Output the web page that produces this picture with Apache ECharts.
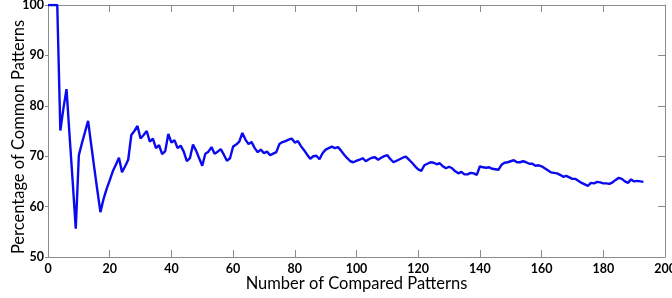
<!DOCTYPE html>
<html>
<head>
<meta charset="utf-8">
<script src="https://cdn.jsdelivr.net/npm/echarts@6/dist/echarts.min.js"></script>
<style>html,body{margin:0;padding:0;background:#fff}#c{width:672px;height:298px}</style>
</head>
<body>
<div id="c"></div>
<script>
const xTitle = "Number of Compared Patterns";
const yTitle = "Percentage of Common Patterns";
const xTicks = [0, 20, 40, 60, 80, 100, 120, 140, 160, 180, 200];
const yTicks = [50, 60, 70, 80, 90, 100];
const patternsCompared = [];
for (let i = 0; i <= 193; i++) patternsCompared.push(i);
const commonPct = [
  100,
  100, 100, 100, 75.1, 79.5, 83.3, 74, 65, 55.6, 70.2,
  72.6, 74.8, 77.0, 72.3, 67.7, 63.2, 58.9, 61.5, 63.5, 65.2,
  67.0, 68.3, 69.7, 66.8, 68.0, 69.3, 74.2, 75.0, 76.0, 73.5,
  74.2, 75.0, 72.9, 73.5, 71.6, 72.2, 70.4, 71.0, 74.4, 72.7,
  73.2, 71.6, 72.1, 70.9, 69.0, 69.6, 72.3, 71.1, 69.6, 68.1,
  70.5, 70.9, 71.8, 70.5, 70.9, 71.4, 70.3, 69.1, 69.6, 71.9,
  72.3, 72.9, 74.6, 73.3, 72.4, 72.8, 71.6, 70.8, 71.3, 70.6,
  70.9, 70.2, 70.5, 70.8, 72.4, 72.8, 73.0, 73.3, 73.5, 72.7,
  73.0, 72.0, 71.2, 70.3, 69.5, 70.0, 70.1, 69.4, 70.6, 71.3,
  71.6, 71.9, 71.6, 71.8, 71.1, 70.3, 69.6, 69.0, 68.8, 69.1,
  69.3, 69.6, 69.0, 69.4, 69.7, 69.8, 69.3, 69.7, 70.0, 70.2,
  69.4, 68.8, 69.1, 69.4, 69.7, 69.9, 69.3, 68.7, 68.0, 67.4,
  67.1, 68.2, 68.5, 68.8, 68.7, 68.4, 68.6, 68.0, 67.6, 67.9,
  67.6, 67.0, 66.6, 66.9, 66.4, 66.4, 66.7, 66.6, 66.3, 68.0,
  67.8, 67.7, 67.8, 67.5, 67.4, 67.3, 68.3, 68.7, 68.8, 69.0,
  69.2, 68.8, 68.8, 69.0, 68.8, 68.5, 68.5, 68.1, 68.2, 68.0,
  67.6, 67.2, 66.8, 66.7, 66.6, 66.3, 65.9, 66.1, 65.8, 65.5,
  65.5, 65.1, 64.7, 64.4, 64.1, 64.7, 64.6, 64.9, 64.8, 64.6,
  64.6, 64.5, 64.8, 65.3, 65.7, 65.5, 65.0, 64.7, 65.4, 65.0,
  65.1, 65.0, 64.9
];

const axisGray = '#8a8a8a';
const fam = 'Lato, "Open Sans", sans-serif';
const labelFont = { color: '#000', fontWeight: 'bold', fontSize: 12.5, fontFamily: fam };
const titleFont = { color: '#000', fontSize: 16.5, fontFamily: fam };
const xMin = xTicks[0], xMax = xTicks[xTicks.length - 1];
const yMin = yTicks[0], yMax = yTicks[yTicks.length - 1];

function baseAxis(extra) {
  return Object.assign({
    type: 'value',
    axisLine: { show: true, onZero: false, lineStyle: { color: axisGray, width: 1 } },
    axisTick: { show: true, inside: true, length: 7, lineStyle: { color: axisGray } },
    splitLine: { show: false },
  }, extra);
}

const chart = echarts.init(document.getElementById('c'));
chart.setOption({
  animation: false,
  grid: { left: 48, right: 7, top: 5, bottom: 41, containLabel: false, outerBoundsMode: 'none' },
  xAxis: [
    baseAxis({
      position: 'bottom', min: xMin, max: xMax, interval: 20,
      axisLabel: Object.assign({ margin: 5 }, labelFont),
      name: xTitle, nameLocation: 'middle', nameGap: 18, nameMoveOverlap: false,
      nameTextStyle: titleFont
    }),
    baseAxis({ position: 'top', min: xMin, max: xMax, interval: 20, axisLabel: { show: false } })
  ],
  yAxis: [
    baseAxis({
      position: 'left', min: yMin, max: yMax, interval: 10,
      axisTick: { show: true, inside: false, length: 3, lineStyle: { color: axisGray } },
      axisLabel: Object.assign({ margin: 4 }, labelFont),
      name: yTitle, nameLocation: 'middle', nameGap: 21, nameMoveOverlap: false,
      nameTextStyle: Object.assign({ padding: [0, 12, 0, 0] }, titleFont)
    }),
    baseAxis({ position: 'right', min: yMin, max: yMax, interval: 10, axisLabel: { show: false } })
  ],
  series: [{
    type: 'line',
    data: patternsCompared.map((x, i) => [x, commonPct[i]]),
    showSymbol: false,
    clip: true,
    lineStyle: { color: '#0a0af0', width: 2.4 },
    itemStyle: { color: '#0a0af0' }
  }]
});
</script>
</body>
</html>
